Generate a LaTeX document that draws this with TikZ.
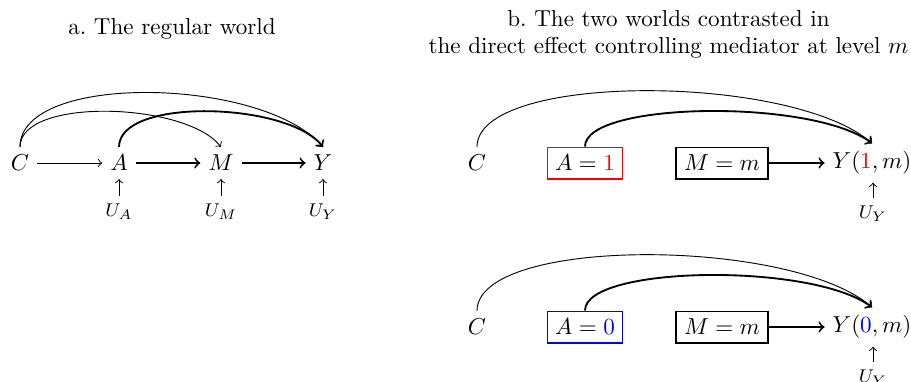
\documentclass[tikz,border=0pt]{standalone}
\usetikzlibrary{arrows}
\begin{document}
\begin{tikzpicture}[x=0.433pt,y=-0.433pt,
  var/.style={inner sep=0.333em},
  uvar/.style={font=\footnotesize},
  fixed/.style={draw,thick,inner sep=0.333em},
  thin arr/.style={->,thin},
  thick arr/.style={->,thick},
  lbl/.style={anchor=base}]
\useasboundingbox (0,0) rectangle (911,381);
% titles
\node[lbl] (ta) at (172,34) {a.\ The regular world};
\node[lbl] (tb1) at (668.5,26) {b.\ The two worlds contrasted in};
\node[lbl] (tb2) at (668.5,53) {the direct effect controlling mediator at level $m$};
% panel a
\node[var] (C) at (20,163) {$C$};
\node[var] (A) at (119,163) {$A$};
\node[var] (M) at (221,163) {$M$};
\node[var] (Y) at (323,163) {$Y$};
\node[uvar] (UA) at (119,212) {$U_A$};
\node[uvar] (UM) at (221,212) {$U_M$};
\node[uvar] (UY) at (323,212) {$U_Y$};
\draw[thin arr] (C) -- (A);
\draw[thick arr] (A) -- (M);
\draw[thick arr] (M) -- (Y);
\draw[thin arr] (UA) -- (A);
\draw[thin arr] (UM) -- (M);
\draw[thin arr] (UY) -- (Y);
\draw[thin arr] (C.north) .. controls +(0,-75) and +(-60,-70) .. (Y.north);
\draw[thin arr] (C.north) .. controls +(0,-50) and +(-35,-45) .. (M.north);
\draw[thick arr] (A.north) .. controls +(0,-50) and +(-35,-45) .. (Y.north);
% panel b top
\node[var] (C1) at (477,163) {$C$};
\node[fixed,draw=red] (A1) at (585,163) {$A=\textcolor{red}{1}$};
\node[fixed] (M1) at (722,163) {$M=m$};
\node[var] (Y1) at (872,163) {$Y(\textcolor{red}{1},m)$};
\node[uvar] (UY1) at (873,214) {$U_Y$};
\draw[thick arr] (M1) -- (Y1);
\draw[thin arr] (UY1) -- (Y1.south -| UY1);
\draw[thin arr] (C1.north) .. controls +(0,-75) and +(-80,-70) .. (Y1.north);
\draw[thick arr] (A1.north) .. controls +(0,-45) and +(-60,-45) .. (Y1.north);
% panel b bottom
\node[var] (C0) at (477,327) {$C$};
\node[fixed,draw=blue] (A0) at (585,327) {$A=\textcolor{blue}{0}$};
\node[fixed] (M0) at (722,327) {$M=m$};
\node[var] (Y0) at (872,327) {$Y(\textcolor{blue}{0},m)$};
\node[uvar] (UY0) at (873,378) {$U_Y$};
\draw[thick arr] (M0) -- (Y0);
\draw[thin arr] (UY0) -- (Y0.south -| UY0);
\draw[thin arr] (C0.north) .. controls +(0,-75) and +(-80,-70) .. (Y0.north);
\draw[thick arr] (A0.north) .. controls +(0,-45) and +(-60,-45) .. (Y0.north);
\end{tikzpicture}
\end{document}
